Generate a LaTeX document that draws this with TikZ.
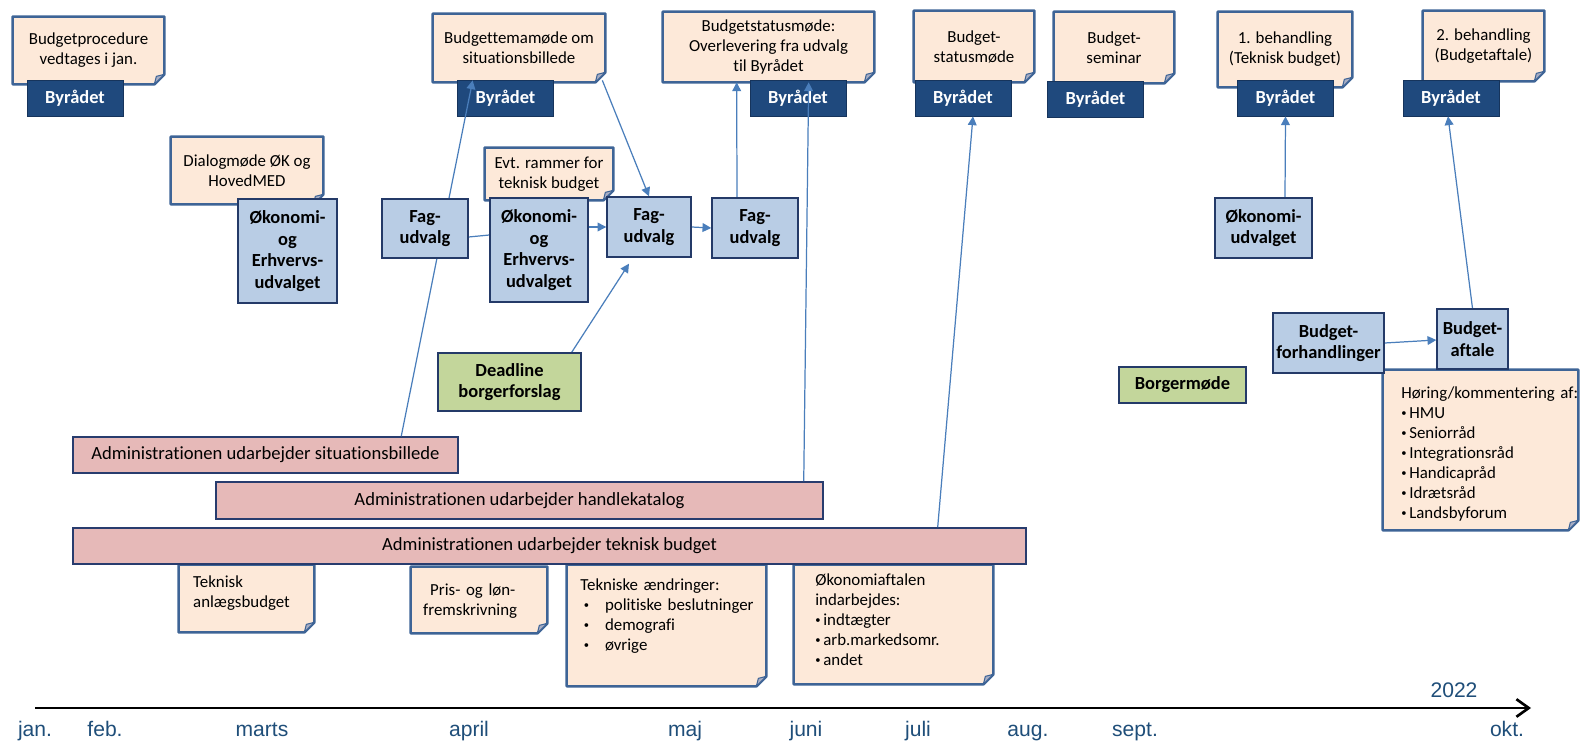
\documentclass[tikz,border=0pt]{standalone}
\usepackage{fontspec}
\setmainfont{Carlito}[Ligatures=NoCommon]
\newfontfamily\axisfont{Liberation Sans}
\usetikzlibrary{calc,arrows.meta}

\definecolor{memofill}{RGB}{253,233,217}
\definecolor{memoedge}{RGB}{62,100,150}
\definecolor{memofold}{RGB}{168,174,196}
\definecolor{raadfill}{RGB}{31,73,125}
\definecolor{raadedge}{RGB}{22,52,92}
\definecolor{udvfill}{RGB}{185,205,229}
\definecolor{udvedge}{RGB}{36,58,104}
\definecolor{groenfill}{RGB}{195,214,155}
\definecolor{barfill}{RGB}{230,185,184}
\definecolor{baredge}{RGB}{40,60,110}
\definecolor{linkblue}{RGB}{74,126,187}
\definecolor{monthblue}{RGB}{31,78,121}

\newcommand\notesize{\fontsize{9.6}{11.4}\selectfont}
\newcommand\boldsize{\fontsize{10.5}{12.2}\selectfont\bfseries}
\newcommand\barsize{\fontsize{10.6}{12.5}\selectfont}
\newcommand\prik{\raisebox{0.25ex}{\fontsize{6}{6}\selectfont\textbullet}}
\newcommand\punkt{\hspace*{2pt}\makebox[12pt][l]{\prik}}

\pgfdeclarelayer{back}
\pgfdeclarelayer{front}
\pgfsetlayers{back,main,front}

\begin{document}
\begin{tikzpicture}[x=0.02cm, y=-0.02cm,
memo/.style={rectangle, inner sep=0pt, align=center, font=\notesize},
memoleft/.style={memo, align=left},
wh/.style 2 args={minimum width=#1cm, minimum height=#2cm},
raad/.style={rectangle, draw=raadedge, fill=raadfill, text=white, font=\boldsize, minimum width=1.92cm, minimum height=0.72cm, inner sep=0pt},
udv/.style={rectangle, draw=udvedge, fill=udvfill, line width=0.8pt, font=\boldsize, align=center, inner sep=0pt},
groen/.style={udv, fill=groenfill},
bar/.style={rectangle, draw=baredge, fill=barfill, line width=0.9pt, font=\barsize, inner sep=0pt},
link/.style={draw=linkblue, line width=0.7pt, -{Triangle[length=5pt,width=5pt]}},
month/.style={anchor=base, font=\axisfont\fontsize{12}{14}\selectfont, text=monthblue}]
\useasboundingbox (0,0) rectangle (1580,743);

\node[memo, wh={3.02}{1.34}] (m1) at (88.5,50.5) {Budgetprocedure\\vedtages i jan.};
\node[memo, wh={3.44}{1.36}] (m2) at (519,48) {Budgettemamøde om\\situationsbillede};
\node[memo, wh={4.22}{1.40}] (m3) at (768.5,47) {Budgetstatusmøde:\\Overlevering fra udvalg\\til Byrådet};
\node[memo, wh={2.40}{1.42}] (m4) at (974,46.5) {Budget-\\statusmøde};
\node[memo, wh={2.40}{1.42}] (m5) at (1114,47.5) {Budget-\\seminar};
\node[memo, wh={2.68}{1.50}] (m6) at (1285,49.5) {1. behandling\\(Teknisk budget)};
\node[memo, wh={2.42}{1.40}] (m7) at (1483.5,46) {2. behandling\\(Budgetaftale)};
\node[memo, wh={3.04}{1.34}] (m8) at (247,170.5) {Dialogmøde ØK og\\HovedMED};
\node[memo, wh={2.56}{1.04}] (m9) at (549,174) {Evt. rammer for\\teknisk budget};
\node[memoleft, wh={2.70}{1.34}, inner xsep=7.9pt, text width=60.7pt, text height=13pt, text depth=25pt] (m10) at (246.5,598.5) {Teknisk\\anlægsbudget};
\node[memoleft, wh={2.72}{1.32}, inner xsep=6.8pt, text width=63.5pt, text height=15.9pt, text depth=21.5pt] (m11) at (479,600) {\hspace*{4pt}Pris- og løn-\\fremskrivning};
\node[memoleft, wh={3.98}{2.42}, inner xsep=7.4pt, text width=98pt, text height=14.2pt, text depth=54.4pt] (m12) at (666.5,625.5) {Tekniske ændringer:\\\mbox{\punkt politiske beslutninger}\\\punkt demografi\\\punkt øvrige};
\node[memoleft, wh={3.98}{2.38}, inner xsep=11.9pt, text width=89pt, text height=11.3pt, text depth=56.2pt] (m13) at (893.5,624.5) {Økonomiaftalen\\indarbejdes:\\\prik\,indtægter\\\prik\,arb.markedsomr.\\\prik\,andet};
\node[memoleft, wh={3.90}{3.20}, inner xsep=10.2pt, text width=90.2pt, text height=15.9pt, text depth=74.8pt] (m14) at (1480.5,450) {\mbox{Høring/kommentering af:}\\\prik\,HMU\\\prik\,Seniorråd\\\prik\,Integrationsråd\\\prik\,Handicapråd\\\prik\,Idrætsråd\\\prik\,Landsbyforum};

\begin{pgfonlayer}{back}
\foreach \m in {m1,m2,m3,m4,m5,m6,m7,m8,m9,m10,m11,m12,m13,m14} {
  \draw[memoedge, fill=memofill, line width=1.5pt, line join=round] (\m.north west) -- (\m.north east) -- ($(\m.south east)+(0,-10)$) -- ($(\m.south east)+(-10,0)$) -- (\m.south west) -- cycle;
  \draw[memoedge, fill=memofold, line width=0.6pt, line join=round] ($(\m.south east)+(-10,0)$) -- ($(\m.south east)+(0,-10)$) -- ($(\m.south east)+(-8,-8)$) -- cycle;
}
\end{pgfonlayer}

\node[raad] (b1) at (75,98) {Byrådet};
\node[raad] (b2) at (505.5,98.5) {Byrådet};
\node[raad] (b3) at (798,98) {Byrådet};
\node[raad] (b4) at (963,98) {Byrådet};
\node[raad] (b5) at (1095.5,99) {Byrådet};
\node[raad] (b6) at (1285.5,98) {Byrådet};
\node[raad] (b7) at (1451,98) {Byrådet};

\node[bar, wh={7.70}{0.72}] (sit) at (265.5,455) {Administrationen udarbejder situationsbillede};
\node[bar, wh={12.14}{0.74}] (hk) at (519.5,500.5) {Administrationen udarbejder handlekatalog};
\node[bar, wh={19.06}{0.72}] (tb) at (549.5,546) {Administrationen udarbejder teknisk budget};

\begin{pgfonlayer}{front}
\node[udv, wh={1.98}{2.08}] (oe1) at (287.5,251) {Økonomi-\\og\\Erhvervs-\\udvalget};
\node[udv, wh={1.72}{1.18}] (fu1) at (425,228.5) {Fag-\\udvalg};
\node[udv, wh={1.96}{2.08}] (oe2) at (539,250) {Økonomi-\\og\\Erhvervs-\\udvalget};
\node[udv, wh={1.68}{1.20}] (fu2) at (649,227) {Fag-\\udvalg};
\node[udv, wh={1.72}{1.20}] (fu3) at (755,228) {Fag-\\udvalg};
\node[udv, wh={1.94}{1.20}] (ou) at (1263.5,228) {Økonomi-\\udvalget};
\node[udv, wh={2.22}{1.20}] (bf) at (1328.5,343) {Budget-\\forhandlinger};
\node[udv, wh={1.42}{1.20}] (ba) at (1472.5,339) {Budget-\\aftale};
\node[groen, wh={2.86}{1.16}] (dl) at (509.5,382) {Deadline\\borgerforslag};
\node[groen, wh={2.54}{0.72}] (bm) at (1182.5,385) {Borgermøde};
\end{pgfonlayer}

\draw[link] ($(sit.north west)+(329,0)$) -- ($(m2.south west)+(40,-2)$);
\draw[linkblue, line width=0.7pt] ($(fu1.east)+(0,8.5)$) -- ($(oe2.west)+(0,-15)$);
\draw[link] ($(oe2.east)+(0,-23)$) -- (fu2.west);
\draw[link] (fu2.east) -- (fu3.west);
\draw[link] ($(m2.south east)+(-3,-2)$) -- (fu2.north);
\draw[link] ($(fu3.north)+(-18,0)$) -- ($(m3.south west)+(74,0)$);
\draw[link] ($(dl.north east)+(-10,0)$) -- ($(fu2.south)+(-20,6)$);
\draw[link] ($(hk.north east)+(-20,0)$) -- ($(m3.south west)+(146,0)$);
\draw[link] ($(tb.north east)+(-89,0)$) -- ($(b4.south)+(10,0)$);
\draw[link] ($(ou.north)+(21.5,0)$) -- (b6.south);
\draw[link] (ba.north) -- ($(b7.south)+(-3,0)$);
\draw[link] (bf.east) -- ($(ba.west)+(0,1)$);

\coordinate (t0) at (35,708);
\coordinate (t1) at (1531,708);
\draw[line width=1.5pt, -{Straight Barb[length=7pt,width=10pt]}] (t0) -- (t1);
\node[month] (jan) at (35,736) {jan.};
\node[month] (feb) at (105,736) {feb.};
\node[month] (mar) at (262,736) {marts};
\node[month] (apr) at (469,736) {april};
\node[month] (maj) at (685,736) {maj};
\node[month] (jun) at (806,736) {juni};
\node[month] (jul) at (918,736) {juli};
\node[month] (aug) at (1028,736) {aug.};
\node[month] (sep) at (1135,736) {sept.};
\node[month] (okt) at (1507,736) {okt.};
\node[month] (aar) at (1454,697) {2022};
\end{tikzpicture}
\end{document}
